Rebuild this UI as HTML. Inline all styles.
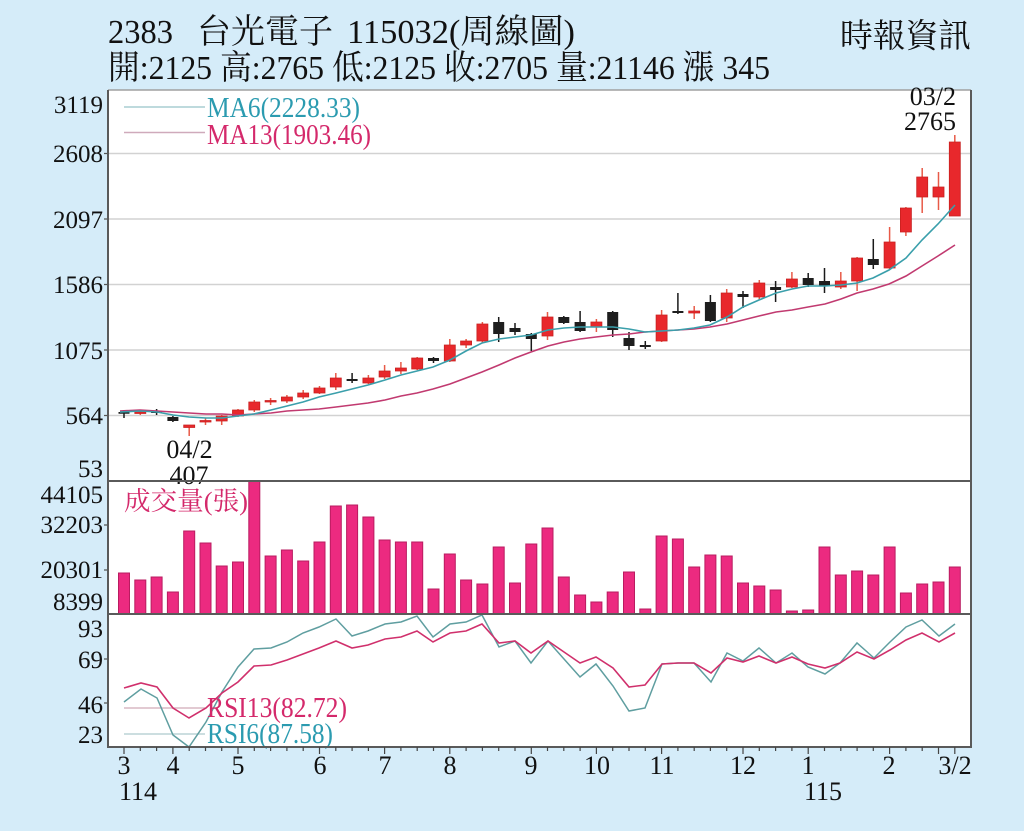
<!DOCTYPE html>
<html><head><meta charset="utf-8"><style>
html,body{margin:0;padding:0;background:#d5ecf9;}
svg{display:block;}
text{font-family:"Liberation Serif","Noto Serif CJK SC",serif;}
</style></head><body>
<svg width="1024" height="831" viewBox="0 0 1024 831" xmlns="http://www.w3.org/2000/svg">
<rect x="0" y="0" width="1024" height="831" fill="#d5ecf9"/>
<text x="108" y="43" font-size="34" fill="#111" textLength="65" lengthAdjust="spacingAndGlyphs">2383</text>
<text x="197" y="43" font-size="34" fill="#111" textLength="136" lengthAdjust="spacingAndGlyphs">台光電子</text>
<text x="347" y="43" font-size="34" fill="#111" textLength="228" lengthAdjust="spacingAndGlyphs">115032(周線圖)</text>
<text x="840" y="47" font-size="33" fill="#111" textLength="131" lengthAdjust="spacingAndGlyphs">時報資訊</text>
<text x="108" y="79" font-size="34" fill="#111" textLength="662" lengthAdjust="spacingAndGlyphs">開:2125 高:2765 低:2125 收:2705 量:21146 漲 345</text>

<rect x="108" y="90" width="863" height="657" fill="#ffffff"/>
<line x1="108" y1="90" x2="971" y2="90" stroke="#a0a0a0" stroke-width="1.5"/>
<path d="M108 153.5H971M108 219H971M108 284.5H971M108 350H971M108 415.5H971" stroke="#d2d2d2" stroke-width="1.5" fill="none"/>

<g font-size="25" fill="#111" text-anchor="end">
<text x="103" y="113">3119</text>
<text x="103" y="162">2608</text>
<text x="103" y="228">2097</text>
<text x="103" y="293">1586</text>
<text x="103" y="359">1075</text>
<text x="103" y="424">564</text>
<text x="103" y="477">53</text>
<text x="103" y="503">44105</text>
<text x="103" y="533">32203</text>
<text x="103" y="578">20301</text>
<text x="103" y="610">8399</text>
<text x="103" y="637">93</text>
<text x="103" y="668">69</text>
<text x="103" y="713">46</text>
<text x="103" y="743">23</text>
</g>
<path d="M104 153.5H108M104 219H108M104 284.5H108M104 350H108M104 415.5H108M104 525H108M104 570H108M104 659H108M104 703H108" stroke="#555" stroke-width="1.2" fill="none"/>

<line x1="124" y1="107" x2="205" y2="107" stroke="#a9cdd2" stroke-width="1.5"/>
<line x1="124" y1="132.5" x2="205" y2="132.5" stroke="#cfaabb" stroke-width="1.5"/>
<text x="207" y="117" font-size="28" fill="#2b9bb0" textLength="153" lengthAdjust="spacingAndGlyphs">MA6(2228.33)</text>
<text x="207" y="144" font-size="28" fill="#d4296b" textLength="164" lengthAdjust="spacingAndGlyphs">MA13(1903.46)</text>

<path stroke="#e85a48" stroke-width="1.5" fill="none" d="M140.3 410V415M189.2 425V436M205.5 418V425M221.7 415V425M238 409V417M254.3 400V412M270.6 398V405M286.9 395V403M303.2 390V399M319.5 386V394M335.8 373V390M368.4 375V384M384.6 365V379M400.9 362V374M417.2 357V370M449.8 339V362M466.1 339V348M482.4 322V343M547.5 312V340M596.4 319V332M661.6 310V342M694.2 306V319M726.7 289V322M759.3 280V300M791.9 272V288M840.8 272V289M857.1 257V291M889.6 227V269M905.9 207V236M922.2 168V213M938.5 172V210M954.8 135V216"/>
<path fill="#e8282c" stroke="#c8201f" stroke-width="0.8" d="M134.8 412h11v1.5h-11zM183.7 425h11v2.5h-11zM200 420.5h11v1.5h-11zM216.2 416h11v5h-11zM232.5 410h11v6h-11zM248.8 402h11v8h-11zM265.1 400.5h11v1.5h-11zM281.4 397h11v4h-11zM297.7 393h11v4h-11zM314 388h11v5h-11zM330.3 378h11v9h-11zM362.9 378h11v5h-11zM379.1 371h11v6h-11zM395.4 368h11v3h-11zM411.7 358h11v11h-11zM444.3 345h11v16h-11zM460.6 341h11v4h-11zM476.9 324h11v17h-11zM542 317h11v19h-11zM590.9 322h11v5h-11zM656.1 315h11v26h-11zM688.7 311h11v2h-11zM721.2 293h11v25h-11zM753.8 283h11v14h-11zM786.4 279h11v8h-11zM835.3 281h11v6h-11zM851.6 258h11v23h-11zM884.1 242h11v26h-11zM900.4 208h11v24h-11zM916.7 177h11v20h-11zM933 187h11v10h-11zM949.3 142h11v74h-11z"/>
<path stroke="#1a1a1a" stroke-width="1.5" fill="none" d="M124 410V418M156.6 409V415M172.9 416V422M352.1 373V383M433.5 357V363M498.7 317V342M515 323V335M531.3 333V351M563.8 316V324M580.1 311V332M612.7 311V337M629 332V350M645.3 341V349M677.9 293V314M710.4 295V322M743 291V308M775.6 281V302M808.2 273V287M824.5 268V293M873.3 239V269"/>
<path fill="#1e1e1e" d="M118.5 412h11v1.8h-11zM151.1 411h11v2h-11zM167.4 417h11v4h-11zM346.6 379h11v2h-11zM428 358h11v3h-11zM493.2 322h11v12h-11zM509.5 328h11v4h-11zM525.8 334h11v5h-11zM558.3 317h11v6h-11zM574.6 322h11v9h-11zM607.2 312h11v18h-11zM623.5 338h11v8h-11zM639.8 345h11v2h-11zM672.4 311h11v2h-11zM704.9 302h11v19h-11zM737.5 294h11v3h-11zM770.1 287h11v3h-11zM802.7 278h11v7h-11zM819 281h11v5h-11zM867.8 259h11v6h-11z"/>

<polyline fill="none" stroke="#c13a70" stroke-width="1.6" points="120,411 140,410 157,411 173,412 189,413 206,414 222,414 238,415 254,414 271,413 287,411 303,410 319,409 336,407 352,405 368,403 385,400 401,396 417,393 433,389 450,384 466,378 482,372 499,365 515,358 531,352 548,346 564,342 580,339 596,337 613,335 629,334 645,332 661,331 678,330 694,329 710,327 727,324 743,320 759,316 776,312 792,310 808,307 825,304 841,299 857,293 873,289 889,284 906,276 922,266 938,256 955,245"/>
<polyline fill="none" stroke="#3a9fab" stroke-width="1.6" points="120,412 140,411 157,412 173,415 189,417 206,418 222,418 238,416 254,414 271,410 287,406 303,402 319,397 336,393 352,389 368,385 385,380 401,375 417,371 433,367 450,360 466,351 482,343 499,339 515,337 531,335 548,330 564,328 580,327 596,327 613,327 629,329 645,332 661,331 678,330 694,328 710,325 727,317 743,307 759,300 776,293 792,289 808,286 825,286 841,285 857,283 873,278 889,270 906,258 922,240 938,224 955,205"/>

<g font-size="26" fill="#111" text-anchor="end">
<text x="956" y="105">03/2</text>
<text x="956" y="130">2765</text>
</g>
<g font-size="26" fill="#111" text-anchor="middle">
<text x="189.5" y="458">04/2</text>
<text x="189" y="484">407</text>
</g>

<path fill="#ec2a80" stroke="#b91c60" stroke-width="1" d="M118.5 573h11V614h-11zM134.8 580h11V614h-11zM151.1 577h11V614h-11zM167.4 592h11V614h-11zM183.7 531h11V614h-11zM200 543h11V614h-11zM216.2 566h11V614h-11zM232.5 562h11V614h-11zM248.8 481h11V614h-11zM265.1 556h11V614h-11zM281.4 550h11V614h-11zM297.7 561h11V614h-11zM314 542h11V614h-11zM330.3 506h11V614h-11zM346.6 505h11V614h-11zM362.9 517h11V614h-11zM379.1 540h11V614h-11zM395.4 542h11V614h-11zM411.7 542h11V614h-11zM428 589h11V614h-11zM444.3 554h11V614h-11zM460.6 580h11V614h-11zM476.9 584h11V614h-11zM493.2 547h11V614h-11zM509.5 583h11V614h-11zM525.8 544h11V614h-11zM542 528h11V614h-11zM558.3 577h11V614h-11zM574.6 595h11V614h-11zM590.9 602h11V614h-11zM607.2 592h11V614h-11zM623.5 572h11V614h-11zM639.8 609h11V614h-11zM656.1 536h11V614h-11zM672.4 539h11V614h-11zM688.7 567h11V614h-11zM704.9 555h11V614h-11zM721.2 556h11V614h-11zM737.5 583h11V614h-11zM753.8 586h11V614h-11zM770.1 590h11V614h-11zM786.4 611h11V614h-11zM802.7 610h11V614h-11zM819 547h11V614h-11zM835.3 575h11V614h-11zM851.6 571h11V614h-11zM867.8 575h11V614h-11zM884.1 547h11V614h-11zM900.4 593h11V614h-11zM916.7 584h11V614h-11zM933 582h11V614h-11zM949.3 567h11V614h-11z"/>
<text x="124" y="510" font-size="26" fill="#d4296b" textLength="124" lengthAdjust="spacingAndGlyphs">成交量(張)</text>

<line x1="124" y1="708" x2="205" y2="708" stroke="#d9b8c4" stroke-width="1.5"/>
<line x1="124" y1="734" x2="205" y2="734" stroke="#bcd3d6" stroke-width="1.5"/>
<polyline fill="none" stroke="#5f9ea0" stroke-width="1.5" points="124,702 141,689 157,698 173,735 189,747 206,722 222,692 238,667 254,649 271,648 287,642 303,633 319,627 336,619 352,636 368,631 385,624 401,622 417,616 433,637 450,624 466,622 482,615 499,647 515,641 531,663 548,641 564,659 580,677 596,664 613,686 629,711 645,708 662,664 678,663 694,663 711,682 727,653 743,661 759,648 776,663 792,653 808,667 825,674 840,663 857,643 874,658 890,642 906,627 922,620 939,636 955,624"/>
<polyline fill="none" stroke="#d0306c" stroke-width="1.6" points="124,688 141,683 157,687 173,708 189,718 206,708 222,693 238,682 254,666 271,665 287,660 303,654 319,648 336,641 352,648 368,645 385,639 401,637 417,631 433,642 450,633 466,631 482,624 499,643 515,641 531,653 548,641 564,652 580,663 596,657 613,668 629,687 645,685 662,664 678,663 694,663 711,673 727,658 743,662 759,656 776,663 792,657 808,664 825,668 840,663 857,652 874,659 890,650 906,640 922,633 939,642 955,633"/>
<text x="207" y="717" font-size="28" fill="#d4296b" textLength="140" lengthAdjust="spacingAndGlyphs">RSI13(82.72)</text>
<text x="207" y="743" font-size="28" fill="#2b9bb0" textLength="126" lengthAdjust="spacingAndGlyphs">RSI6(87.58)</text>

<path d="M108 481H971M108 614H971M108 747H971M108 90V748M971 90V748" stroke="#5a5a5a" stroke-width="2" fill="none"/>

<path stroke="#444" stroke-width="1.2" fill="none" d="M124 747V754M140.3 747V751M156.6 747V751M172.9 747V754M189.2 747V751M205.5 747V751M221.7 747V751M238 747V754M254.3 747V751M270.6 747V751M286.9 747V751M303.2 747V751M319.5 747V754M335.8 747V751M352.1 747V751M368.4 747V751M384.6 747V754M400.9 747V751M417.2 747V751M433.5 747V751M449.8 747V754M466.1 747V751M482.4 747V751M498.7 747V751M515 747V751M531.3 747V754M547.5 747V751M563.8 747V751M580.1 747V751M596.4 747V754M612.7 747V751M629 747V751M645.3 747V751M661.6 747V754M677.9 747V751M694.2 747V751M710.4 747V751M726.7 747V751M743 747V754M759.3 747V751M775.6 747V751M791.9 747V751M808.2 747V754M824.5 747V751M840.8 747V751M857.1 747V751M873.3 747V751M889.6 747V754M905.9 747V751M922.2 747V751M938.5 747V754M954.8 747V754"/>
<g font-size="26" fill="#111" text-anchor="middle">
<text x="124" y="774">3</text>
<text x="173" y="774">4</text>
<text x="238" y="774">5</text>
<text x="320" y="774">6</text>
<text x="385" y="774">7</text>
<text x="450" y="774">8</text>
<text x="531" y="774">9</text>
<text x="597" y="774">10</text>
<text x="662" y="774">11</text>
<text x="743" y="774">12</text>
<text x="808" y="774">1</text>
<text x="889" y="774">2</text>
<text x="955" y="774">3/2</text>
</g>
<g font-size="26" fill="#111">
<text x="119" y="800">114</text>
<text x="804" y="800">115</text>
</g>
</svg>
</body></html>
